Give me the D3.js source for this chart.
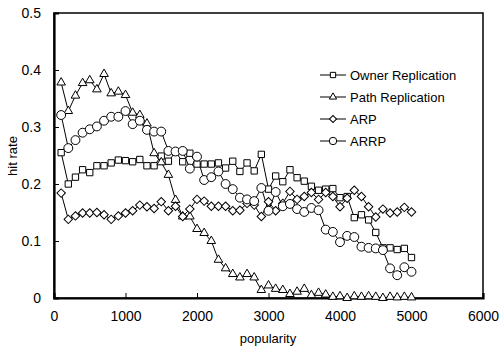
<!DOCTYPE html>
<html><head><meta charset="utf-8">
<script src="https://cdn.jsdelivr.net/npm/d3@7"></script>
<style>body{margin:0;background:#fff}svg{display:block}text{font-family:"Liberation Sans",Arial,sans-serif;fill:#000}</style>
</head><body><svg id="c" width="499" height="349"></svg>
<script>
const popularity = [100,200,300,400,500,600,700,800,900,1000,1100,1200,1300,1400,1500,1600,1700,1800,1900,2000,2100,2200,2300,2400,2500,2600,2700,2800,2900,3000,3100,3200,3300,3400,3500,3600,3700,3800,3900,4000,4100,4200,4300,4400,4500,4600,4700,4800,4900,5000];
const ownerReplication = [0.255,0.200,0.212,0.225,0.220,0.232,0.232,0.237,0.242,0.241,0.239,0.243,0.232,0.232,0.249,0.240,0.256,0.239,0.254,0.235,0.235,0.235,0.237,0.228,0.240,0.222,0.237,0.223,0.252,0.191,0.214,0.204,0.225,0.211,0.205,0.196,0.189,0.191,0.192,0.176,0.178,0.141,0.146,0.137,0.115,0.088,0.088,0.085,0.087,0.071];
const pathReplication = [0.378,0.328,0.355,0.377,0.382,0.366,0.393,0.359,0.362,0.356,0.325,0.321,0.306,0.254,0.238,0.216,0.172,0.143,0.143,0.121,0.114,0.100,0.067,0.052,0.042,0.036,0.042,0.036,0.014,0.022,0.016,0.014,0.007,0.011,0.016,0.005,0.009,0.006,0.002,0.003,0.000,0.003,0.002,0.003,0.002,0.000,0.002,0.001,0.002,0.001];
const arp = [0.184,0.138,0.144,0.149,0.149,0.150,0.146,0.138,0.144,0.149,0.153,0.163,0.160,0.157,0.169,0.153,0.161,0.143,0.156,0.173,0.170,0.161,0.161,0.161,0.153,0.154,0.166,0.163,0.143,0.169,0.153,0.166,0.187,0.173,0.178,0.185,0.173,0.185,0.178,0.160,0.175,0.189,0.178,0.160,0.142,0.156,0.149,0.151,0.159,0.151];
const arrp = [0.321,0.263,0.277,0.290,0.296,0.301,0.311,0.318,0.318,0.328,0.305,0.311,0.295,0.292,0.292,0.258,0.257,0.258,0.227,0.248,0.207,0.212,0.222,0.200,0.191,0.176,0.173,0.170,0.193,0.153,0.186,0.161,0.165,0.156,0.151,0.158,0.154,0.120,0.116,0.098,0.109,0.107,0.090,0.088,0.087,0.084,0.052,0.040,0.054,0.046];
const seriesNames = ["Owner Replication","Path Replication","ARP","ARRP"];
const markerTypes = ["square","triangle","diamond","circle"];
const xTicks = [0,1000,2000,3000,4000,5000,6000];
const yTicks = [0,0.1,0.2,0.3,0.4,0.5];

const series = [ownerReplication, pathReplication, arp, arrp];
const svg = d3.select("#c");
const L=54, R=483, T=13, B=298;
const x = d3.scaleLinear().domain([0,6000]).range([L,R]);
const y = d3.scaleLinear().domain([0,0.5]).range([B,T]);

const symMap = {square:d3.symbolSquare, triangle:d3.symbolTriangle, diamond:d3.symbolSquare, circle:d3.symbolCircle};
const symSize = {square:40, triangle:32, diamond:36, circle:62};
const symRot = {square:0, triangle:0, diamond:45, circle:0};

// frame
svg.append("rect").attr("x",L).attr("y",T).attr("width",R-L).attr("height",B-T).attr("fill","none").attr("stroke","#000").attr("stroke-width",1.5);

// axes
const xAxis = d3.axisBottom(x).tickValues(xTicks).tickSize(-5).tickPadding(13).tickFormat(d3.format("d"));
const gx = svg.append("g").attr("transform",`translate(0,${B})`).call(xAxis);
const yAxis = d3.axisLeft(y).tickValues(yTicks).tickSize(-5).tickPadding(13).tickFormat(d=>d===0?"0":d3.format(".1f")(d));
const gy = svg.append("g").attr("transform",`translate(${L},0)`).call(yAxis);
[gx,gy].forEach(g=>{g.select(".domain").attr("stroke","#000").attr("stroke-width",2.2);g.selectAll(".tick line").attr("stroke","#000");g.selectAll("text").attr("font-size",14).attr("font-family","Liberation Sans, Arial, sans-serif");});
gx.selectAll(".tick").filter(d=>d===0||d===6000).select("line").remove();
gy.selectAll(".tick").filter(d=>d===0||d===0.5).select("line").remove();

svg.append("text").attr("x",268).attr("y",343).attr("text-anchor","middle").attr("font-size",13).text("popularity");
svg.append("text").attr("transform","translate(17,156) rotate(-90)").attr("text-anchor","middle").attr("font-size",13).text("hit rate");

const line = d3.line().x((d,i)=>x(popularity[i])).y(d=>y(d));
series.forEach((s,k)=>{
  svg.append("path").datum(s).attr("d",line).attr("fill","none").attr("stroke","#000").attr("stroke-width",1);
});
series.forEach((s,k)=>{
  const m = markerTypes[k];
  svg.append("g").selectAll("path").data(s).join("path")
    .attr("d",d3.symbol().type(symMap[m]).size(symSize[m]))
    .attr("transform",(d,i)=>`translate(${x(popularity[i])},${y(d)}) rotate(${symRot[m]})`)
    .attr("fill","#fff").attr("stroke","#000").attr("stroke-width",1);
});

// legend
const leg = svg.append("g");
seriesNames.forEach((n,k)=>{
  const yy = 75 + k*22;
  leg.append("line").attr("x1",320).attr("x2",346).attr("y1",yy).attr("y2",yy).attr("stroke","#000");
  const m = markerTypes[k];
  leg.append("path").attr("d",d3.symbol().type(symMap[m]).size(symSize[m]*0.7)).attr("transform",`translate(333,${yy}) rotate(${symRot[m]})`).attr("fill","#fff").attr("stroke","#000");
  leg.append("text").attr("x",350).attr("y",yy+5).attr("font-size",13).text(n);
});
</script></body></html>
